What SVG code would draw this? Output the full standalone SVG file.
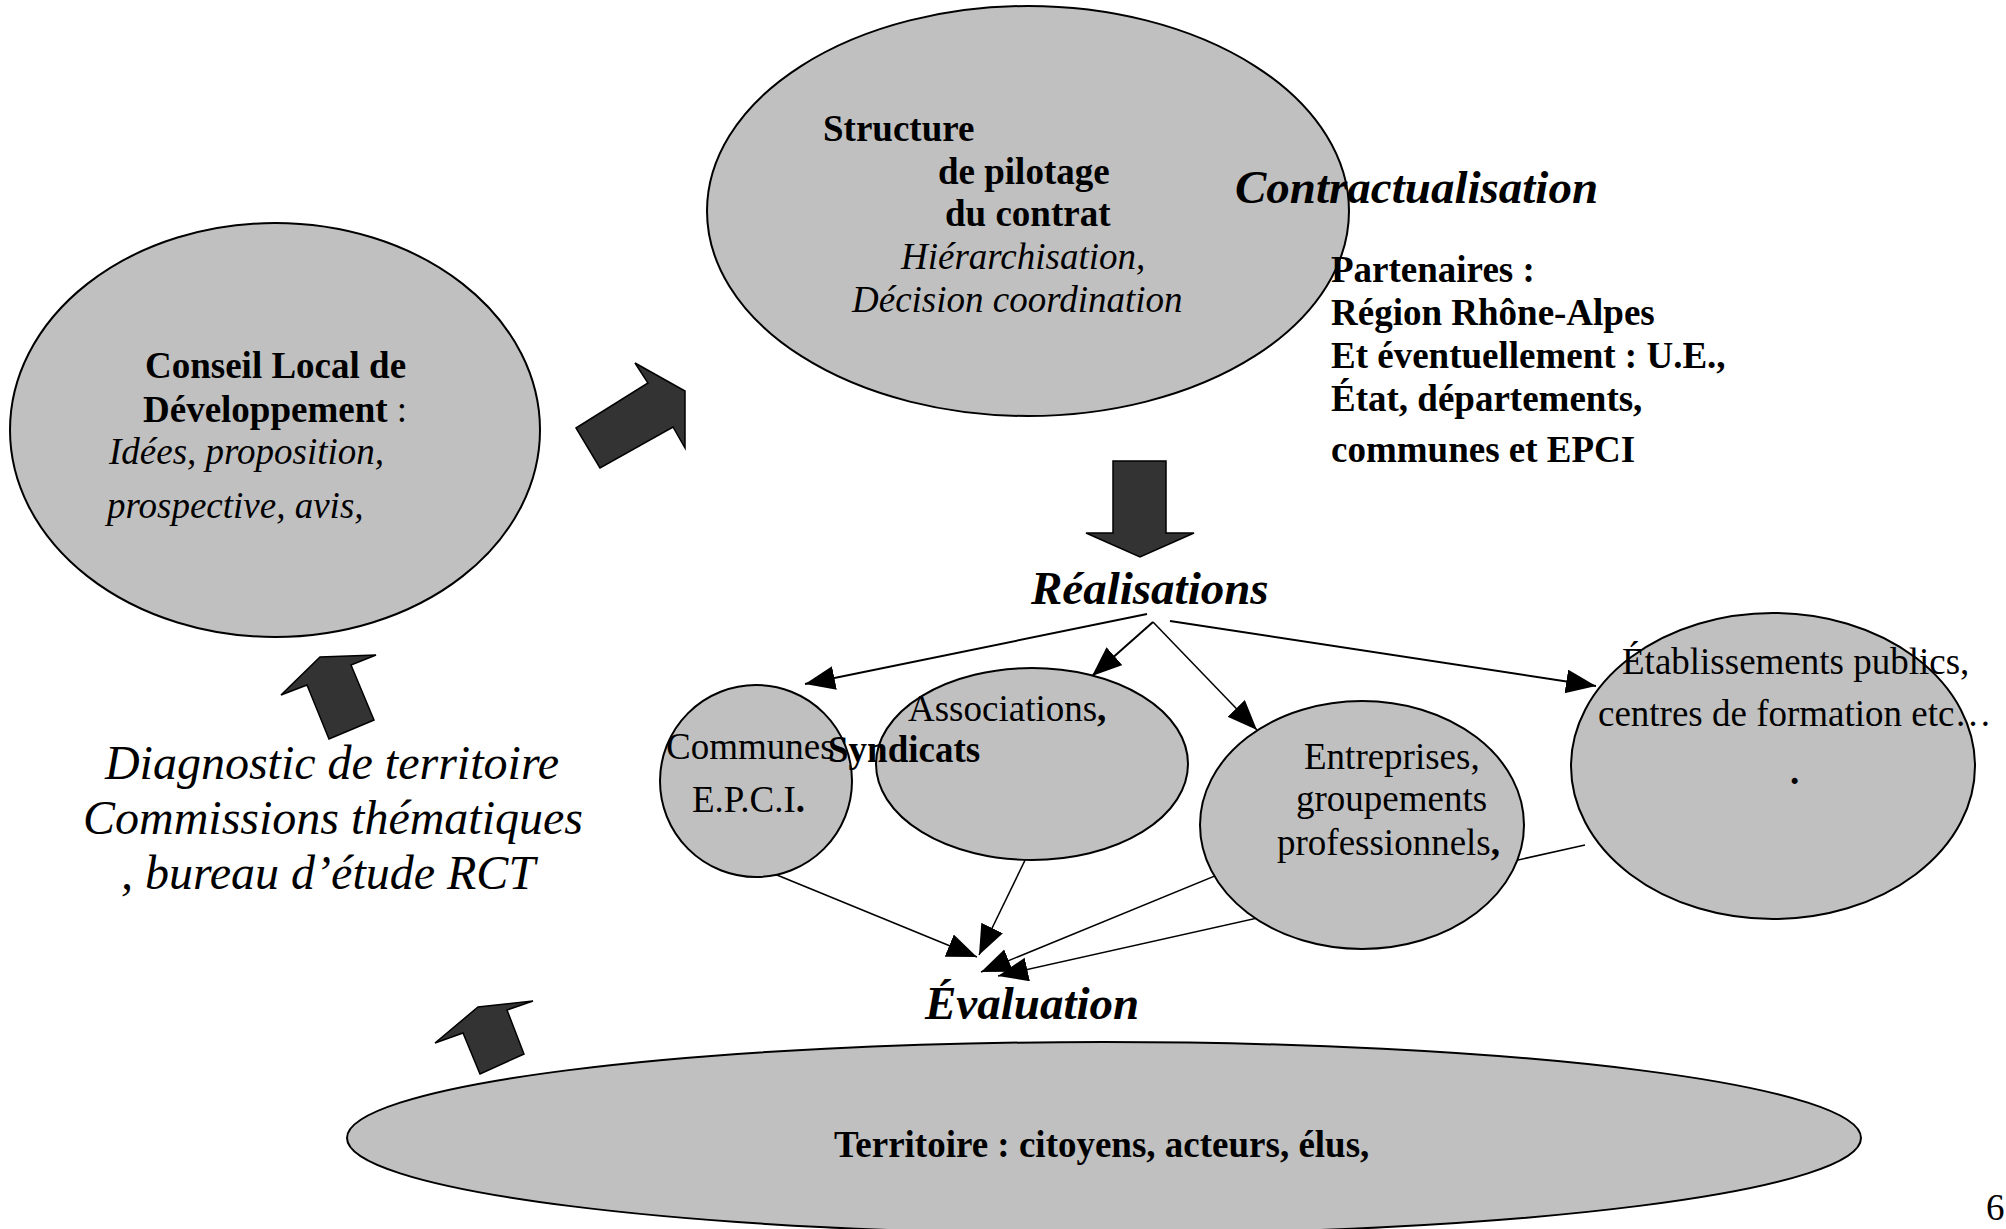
<svg xmlns="http://www.w3.org/2000/svg" width="2006" height="1229" viewBox="0 0 2006 1229">
<style>
.node{fill:#c0c0c0;stroke:#000;stroke-width:2}
.blk{fill:#333333;stroke:#000;stroke-width:1.5}
.t{font-family:"Liberation Serif","Times New Roman",serif;font-size:37px;fill:#000}
.b{font-weight:bold}
.i{font-style:italic}
.big{font-family:"Liberation Serif","Times New Roman",serif;font-size:47px;font-weight:bold;font-style:italic;fill:#000}
.diag{font-family:"Liberation Serif","Times New Roman",serif;font-size:48px;font-style:italic;fill:#000}
.c{fill:none;stroke:#000;stroke-width:2}
</style>
<defs>
<marker id="ah" markerUnits="userSpaceOnUse" markerWidth="32" markerHeight="26" refX="30" refY="12" orient="auto">
<path d="M0,0 L30,12 L0,24 z" fill="#000"/>
</marker>
</defs>
<rect width="2006" height="1229" fill="#fff"/>

<g id="connectors">
<line class="c" x1="1147" y1="614" x2="805" y2="684" marker-end="url(#ah)"/>
<line class="c" x1="1153" y1="622" x2="1092" y2="676" marker-end="url(#ah)"/>
<line class="c" x1="1153" y1="622" x2="1257" y2="730" marker-end="url(#ah)" style="stroke-width:1.5"/>
<line class="c" x1="1170" y1="621" x2="1596" y2="686" marker-end="url(#ah)"/>
<line class="c" x1="760" y1="868" x2="977" y2="957" marker-end="url(#ah)" style="stroke-width:1.5"/>
<line class="c" x1="1030" y1="850" x2="979" y2="955" marker-end="url(#ah)" style="stroke-width:1.5"/>
<line class="c" x1="1300" y1="841" x2="981" y2="972" marker-end="url(#ah)" style="stroke-width:1.5"/>
<line class="c" x1="1585" y1="845" x2="998" y2="976" marker-end="url(#ah)" style="stroke-width:1.5"/>
</g>

<g id="arrows">
<polygon class="blk" points="576,428 648,383 635,363 685,391 685,448 673,427 600,468"/>
<polygon class="blk" points="1113,461 1166,461 1166,533 1194,533 1140,557 1086,533 1113,533"/>
<polygon class="blk" points="281,695 320,657 376,655 351,665 374,720 329,739 307,685"/>
<polygon class="blk" points="435,1043 478,1007 533,1001 507,1010 524,1054 480,1074 463,1033"/>
</g>

<g id="structure">
<ellipse class="node" cx="1028" cy="211" rx="321" ry="205"/>
<text class="t b" x="823" y="141">Structure</text>
<text class="t b" x="938" y="184">de pilotage</text>
<text class="t b" x="945" y="226">du contrat</text>
<text class="t i" x="901" y="269">Hiérarchisation,</text>
<text class="t i" x="852" y="312">Décision coordination</text>
</g>

<g id="contractualisation">
<text class="big" x="1235" y="203">Contractualisation</text>
<text class="t b" x="1331" y="282">Partenaires :</text>
<text class="t b" x="1331" y="325">Région Rhône-Alpes</text>
<text class="t b" x="1331" y="368">Et éventuellement : U.E.,</text>
<text class="t b" x="1331" y="411">État, départements,</text>
<text class="t b" x="1331" y="462">communes et EPCI</text>
</g>

<g id="conseil">
<ellipse class="node" cx="275" cy="430" rx="265" ry="207"/>
<text class="t b" x="145" y="378">Conseil Local de</text>
<text class="t" x="143" y="422"><tspan class="b">Développement</tspan> :</text>
<text class="t i" x="109" y="464">Idées, proposition,</text>
<text class="t i" x="107" y="518">prospective, avis,</text>
</g>

<g id="diagnostic">
<text class="diag" x="332" y="779" text-anchor="middle">Diagnostic de territoire</text>
<text class="diag" x="333" y="834" text-anchor="middle">Commissions thématiques</text>
<text class="diag" x="328" y="889" text-anchor="middle">, bureau d’étude RCT</text>
</g>

<g id="realisations">
<text class="big" x="1031" y="604">Réalisations</text>
</g>

<g id="communes">
<ellipse class="node" cx="756" cy="781" rx="96" ry="96"/>
<text class="t" x="666" y="759">Communes</text>
<text class="t" x="692" y="812">E.P.C.I<tspan class="b">.</tspan></text>
</g>

<g id="associations">
<ellipse class="node" cx="1032" cy="764" rx="156" ry="96"/>
<text class="t" x="908" y="721">Associations<tspan class="b">,</tspan></text>
<text class="t b" x="828" y="762">Syndicats</text>
</g>

<g id="entreprises">
<ellipse class="node" cx="1362" cy="825" rx="162" ry="124"/>
<text class="t" x="1304" y="769">Entreprises,</text>
<text class="t" x="1296" y="811">groupements</text>
<text class="t" x="1277" y="855">professionnels<tspan class="b">,</tspan></text>
</g>

<g id="etablissements">
<ellipse class="node" cx="1773" cy="766" rx="202" ry="153"/>
<text class="t" x="1622" y="674">Établissements publics,</text>
<text class="t" x="1598" y="726">centres de formation etc…</text>
<text class="t b" x="1790" y="784">.</text>
</g>

<g id="evaluation">
<text class="big" x="925" y="1019">Évaluation</text>
</g>

<g id="territoire">
<ellipse class="node" cx="1104" cy="1138" rx="757" ry="96"/>
<text class="t b" x="834" y="1157">Territoire : citoyens, acteurs, élus,</text>
</g>

<g id="page">
<text class="t" x="1986" y="1220">6</text>
</g>
</svg>
